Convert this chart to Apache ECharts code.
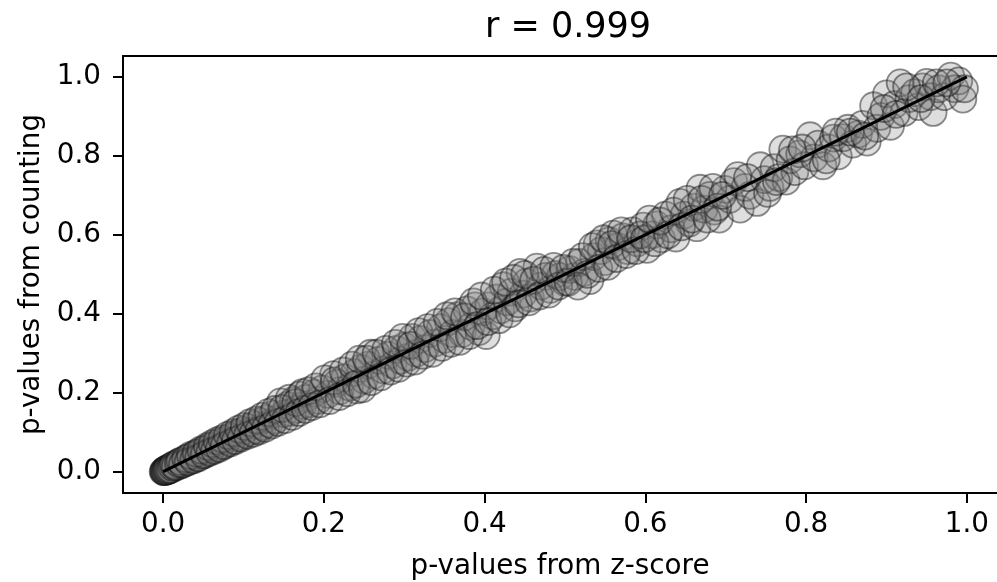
<!DOCTYPE html>
<html>
<head>
<meta charset="utf-8">
<script src="https://cdn.jsdelivr.net/npm/echarts@6/dist/echarts.min.js"></script>
<style>
html,body{margin:0;padding:0;background:#fff;}
#chart{width:997px;height:582px;}
</style>
</head>
<body>
<div id="chart"></div>
<script>
// p-values from z-score (x) and p-values from counting (y)
const pZ = [
 0.000,0.001,0.002,0.003,0.004,0.005,0.006,0.007,0.008,0.009,0.010,0.002,0.001,0.004,0.006,
 0.012,0.014,0.016,0.018,0.020,0.022,0.025,0.027,0.030,0.032,0.035,0.037,0.040,0.042,0.045,0.048,
 0.050,0.053,0.056,0.059,0.062,0.065,0.068,0.071,0.074,0.078,0.082,0.085,0.088,0.092,0.095,0.098,
 0.100,0.103,0.106,0.110,0.113,0.117,0.120,0.124,0.128,0.132,0.136,0.140,0.146,0.150,0.155,0.158,
 0.162,0.166,0.170,0.174,0.178,0.183,0.188,0.193,0.198,
 0.205,0.212,0.216,0.220,0.226,0.232,0.238,0.241,0.246,0.250,0.255,0.258,0.262,0.268,0.274,0.280,
 0.286,0.290,0.295,0.300,
 0.305,0.310,0.315,0.320,0.326,0.332,0.338,0.345,0.350,0.355,0.360,0.366,0.372,0.378,0.383,0.388,
 0.393,0.398,
 0.402,0.405,0.410,0.415,0.420,0.423,0.428,0.433,0.438,0.444,0.448,0.452,0.457,0.465,0.470,0.476,
 0.482,0.488,0.494,0.500,
 0.506,0.512,0.518,0.524,0.531,0.536,0.540,0.545,0.550,0.555,0.560,0.566,0.572,0.578,0.584,0.590,
 0.597,0.602,
 0.608,0.614,0.620,0.625,0.632,0.638,0.643,0.648,0.655,0.660,0.664,0.668,0.673,0.680,0.686,0.692,
 0.699,
 0.705,0.710,0.718,0.724,0.730,0.739,0.743,0.748,0.755,0.760,0.766,0.771,0.775,0.780,0.786,0.792,
 0.798,
 0.805,0.810,0.815,0.821,0.828,0.834,0.840,0.846,0.852,0.858,0.865,0.870,0.876,0.884,0.888,0.893,
 0.900,
 0.905,0.910,0.917,0.922,0.928,0.935,0.940,0.945,0.950,0.955,0.958,0.965,0.972,0.980,0.985,0.990,
 0.995,0.997,
 0.003,0.005,0.007,0.009,0.011,0.013,0.015,0.019,0.021,0.024,0.028,0.031,0.034,0.038,0.041,0.044,
 0.047,0.051,0.055,0.058,0.061,0.064,0.067,0.070,0.073,0.076,0.080,0.084,0.087,0.090,0.094,0.097,
 0.101,0.105,0.108,0.112,0.116,0.119,0.123,0.127,0.131,0.135,0.139,0.143,0.148,0.152,0.157,0.161,
 0.165,0.169,0.173,0.177,0.181,0.185,0.190,0.195,
 0.201,0.207,0.213,0.219,0.224,0.229,0.235,0.240,0.244,0.248,0.253,0.259,0.265,0.271,0.277,0.283,
 0.289,0.293,0.298,0.303,
 0.308,0.313,0.318,0.323,0.329,0.335,0.341,0.347,0.353,0.358,0.363,0.369,0.375,0.381,0.386,0.391,
 0.396,
 0.404,0.412,0.418,0.426,0.431,0.436,0.442,0.450,0.455,0.461,0.468,0.474,0.480,0.486,0.492,0.498,
 0.504,0.510,0.516,0.522,0.528,0.534,0.542,0.548,0.553,0.558,0.564,0.570,0.576,0.582,0.588,0.594,
 0.599,
 0.605,0.612,0.618,0.628,0.635,0.645,0.652,0.658,0.670,0.677,0.684,0.690,0.696,
 0.715,0.727,0.752,0.763,0.783,0.795,0.825,0.837,0.855,0.873,0.897,0.912,0.925,0.943,0.962,0.975
];
const pCount = [
 0.000,0.002,0.000,0.004,0.002,0.006,0.003,0.008,0.005,0.011,0.007,0.003,0.000,0.006,0.009,
 0.015,0.010,0.019,0.014,0.024,0.017,0.027,0.022,0.034,0.027,0.038,0.031,0.044,0.036,0.049,0.041,
 0.055,0.046,0.060,0.052,0.066,0.058,0.073,0.064,0.078,0.070,0.087,0.078,0.094,0.085,0.100,0.090,
 0.104,0.096,0.112,0.103,0.118,0.106,0.128,0.115,0.134,0.122,0.145,0.131,0.177,0.147,0.168,0.150,
 0.180,0.158,0.194,0.168,0.186,0.172,0.199,0.181,0.210,
 0.196,0.246,0.224,0.205,0.238,0.214,0.251,0.207,0.262,0.232,0.270,0.300,0.245,0.282,0.258,0.295,
 0.271,0.310,0.282,0.318,
 0.290,0.340,0.300,0.335,0.312,0.350,0.326,0.365,0.335,0.380,0.350,0.395,0.350,0.410,0.368,0.420,
 0.355,0.405,
 0.345,0.420,0.395,0.440,0.410,0.471,0.430,0.455,0.415,0.505,0.450,0.480,0.440,0.518,0.470,0.495,
 0.462,0.500,0.494,0.480,
 0.512,0.495,0.530,0.505,0.484,0.545,0.577,0.560,0.532,0.585,0.602,0.570,0.595,0.560,0.610,0.580,
 0.622,0.563,
 0.600,0.625,0.590,0.650,0.615,0.592,0.682,0.650,0.630,0.670,0.618,0.718,0.665,0.700,0.660,0.640,
 0.715,
 0.690,0.735,0.665,0.720,0.700,0.682,0.775,0.740,0.720,0.770,0.745,0.817,0.736,0.790,0.760,0.805,
 0.775,
 0.851,0.795,0.830,0.775,0.820,0.845,0.800,0.846,0.870,0.830,0.855,0.880,0.835,0.927,0.870,0.900,
 0.957,
 0.875,0.930,0.985,0.910,0.945,0.960,0.925,0.975,0.986,0.950,0.910,0.970,0.950,1.002,0.970,0.990,
 0.944,0.970,
 0.001,0.003,0.004,0.006,0.012,0.017,0.013,0.021,0.026,0.019,0.033,0.025,0.041,0.030,0.047,0.035,
 0.055,0.043,0.064,0.049,0.071,0.054,0.078,0.059,0.083,0.066,0.092,0.073,0.099,0.079,0.108,0.085,
 0.115,0.092,0.124,0.097,0.131,0.103,0.140,0.110,0.150,0.118,0.158,0.125,0.160,0.132,0.186,0.140,
 0.175,0.150,0.200,0.158,0.205,0.165,0.215,0.172,
 0.235,0.180,0.230,0.190,0.255,0.200,0.270,0.222,0.285,0.210,0.285,0.228,0.300,0.240,0.310,0.255,
 0.325,0.262,0.340,0.275,
 0.320,0.280,0.355,0.295,0.365,0.300,0.378,0.315,0.395,0.325,0.405,0.330,0.392,0.345,0.430,0.370,
 0.445,
 0.380,0.460,0.385,0.480,0.400,0.490,0.425,0.500,0.430,0.485,0.445,0.510,0.450,0.520,0.470,0.515,
 0.480,0.530,0.470,0.545,0.500,0.570,0.515,0.590,0.520,0.575,0.540,0.610,0.550,0.590,0.560,0.600,
 0.590,
 0.640,0.580,0.635,0.600,0.660,0.620,0.690,0.640,0.690,0.640,0.720,0.670,0.700,
 0.750,0.745,0.705,0.735,0.815,0.820,0.790,0.860,0.860,0.850,0.920,0.905,0.975,0.945,0.985,0.985
];
const fitLine = [[0, 0], [1, 1]];
const tickValues = [0, 0.2, 0.4, 0.6, 0.8, 1.0];
const titleText = 'r = 0.999';
const xName = 'p-values from z-score';
const yName = 'p-values from counting';

const points = pZ.map((x, i) => [x, pCount[i]]);
const FONT = 'DejaVu Sans';

const chart = echarts.init(document.getElementById('chart'));
chart.setOption({
  animation: false,
  backgroundColor: '#fff',
  title: {
    text: titleText,
    left: 563,
    textAlign: 'center',
    top: 5,
    textStyle: {fontFamily: FONT, fontSize: 35, fontWeight: 'normal', color: '#000'}
  },
  grid: {
    left: 123, top: 56, right: 0, bottom: 89, show: false,
    containLabel: false, outerBoundsMode: 'none'
  },
  xAxis: [{
    type: 'value', min: -0.05, max: 1.0375,
    name: xName, nameLocation: 'middle', nameGap: 60,
    nameTextStyle: {fontFamily: FONT, fontSize: 27.8, color: '#000'},
    splitLine: {show: false},
    axisLine: {show: true, onZero: false, lineStyle: {color: '#000', width: 2}},
    axisTick: {show: true, inside: false, length: 10, lineStyle: {color: '#000', width: 2}, customValues: tickValues},
    axisLabel: {
      fontFamily: FONT, fontSize: 27.8, color: '#000', margin: 18,
      customValues: tickValues, formatter: v => v.toFixed(1)
    }
  }, {
    type: 'value', position: 'top', min: -0.05, max: 1.0375,
    splitLine: {show: false},
    axisLine: {show: true, onZero: false, lineStyle: {color: '#000', width: 2}},
    axisTick: {show: false}, axisLabel: {show: false}
  }],
  yAxis: {
    type: 'value', min: -0.054, max: 1.053,
    name: yName, nameLocation: 'middle', nameGap: 72,
    nameTextStyle: {fontFamily: FONT, fontSize: 27.8, color: '#000'},
    splitLine: {show: false},
    axisLine: {show: true, onZero: false, lineStyle: {color: '#000', width: 2}},
    axisTick: {show: true, inside: false, length: 10, lineStyle: {color: '#000', width: 2}, customValues: tickValues},
    axisLabel: {
      fontFamily: FONT, fontSize: 27.8, color: '#000', margin: 22,
      customValues: tickValues, formatter: v => v.toFixed(1)
    }
  },
  series: [
    {
      type: 'scatter',
      data: points,
      symbol: 'circle',
      symbolSize: 27,
      itemStyle: {
        color: 'rgba(130,130,130,0.33)',
        borderColor: 'rgba(20,20,20,0.6)',
        borderWidth: 1.8
      },
      z: 2
    },
    {
      type: 'line',
      data: fitLine,
      showSymbol: false,
      symbol: 'none',
      lineStyle: {color: '#000', width: 3},
      z: 3
    }
  ]
});
</script>
</body>
</html>
